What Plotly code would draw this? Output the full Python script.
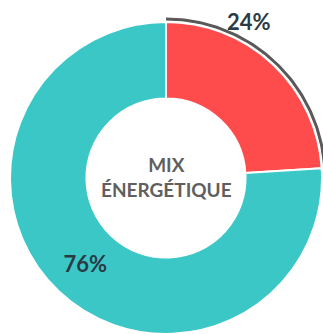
import numpy as np
import plotly.graph_objects as go

labels = ["Part A", "Part B"]
values = [24, 76]
colors = ["#FE4B4B", "#3CC7C7"]
center_title = "MIX<br>ÉNERGÉTIQUE"

W, H = 323, 334
cx, cy, R = 166, 178, 156
arc_r = 159

fig = go.Figure()

fig.add_trace(go.Pie(
    labels=labels, values=values, hole=0.51, sort=False, direction="clockwise",
    rotation=0, marker=dict(colors=colors, line=dict(color="white", width=2)),
    texttemplate=["", "%{value}%"], textposition="inside",
    textfont=dict(family="Lato", size=22, color="#2b3a45", weight="bold"),
    insidetextorientation="horizontal",
    domain=dict(x=[(cx - R) / W, (cx + R) / W], y=[(H - cy - R) / H, (H - cy + R) / H]),
    showlegend=False, hoverinfo="label+percent",
))

# grey outer arc around the first slice
theta = np.linspace(0, 2 * np.pi * values[0] / sum(values), 80)
fig.add_trace(go.Scatter(
    x=cx + arc_r * np.sin(theta), y=cy - arc_r * np.cos(theta),
    mode="lines", line=dict(color="#595959", width=3), hoverinfo="skip", showlegend=False,
))

fig.add_annotation(x=249, y=21, xref="x", yref="y", text=f"{values[0]}%", showarrow=False,
                   font=dict(family="Lato", size=22, color="#2b3a45", weight="bold"))
fig.add_annotation(x=cx, y=cy - 1, xref="x", yref="y", text=center_title, showarrow=False,
                   font=dict(family="Lato", size=19, color="#5f5f5f", weight="bold"))

fig.update_layout(
    width=W, height=H, margin=dict(l=0, r=0, t=0, b=0),
    paper_bgcolor="white", plot_bgcolor="rgba(0,0,0,0)",
    xaxis=dict(range=[0, W], visible=False, fixedrange=True),
    yaxis=dict(range=[H, 0], visible=False, fixedrange=True),
)

fig.write_html("out.html", config={"displayModeBar": False},
               post_script="document.body.style.margin='0';document.body.style.overflow='hidden';")
